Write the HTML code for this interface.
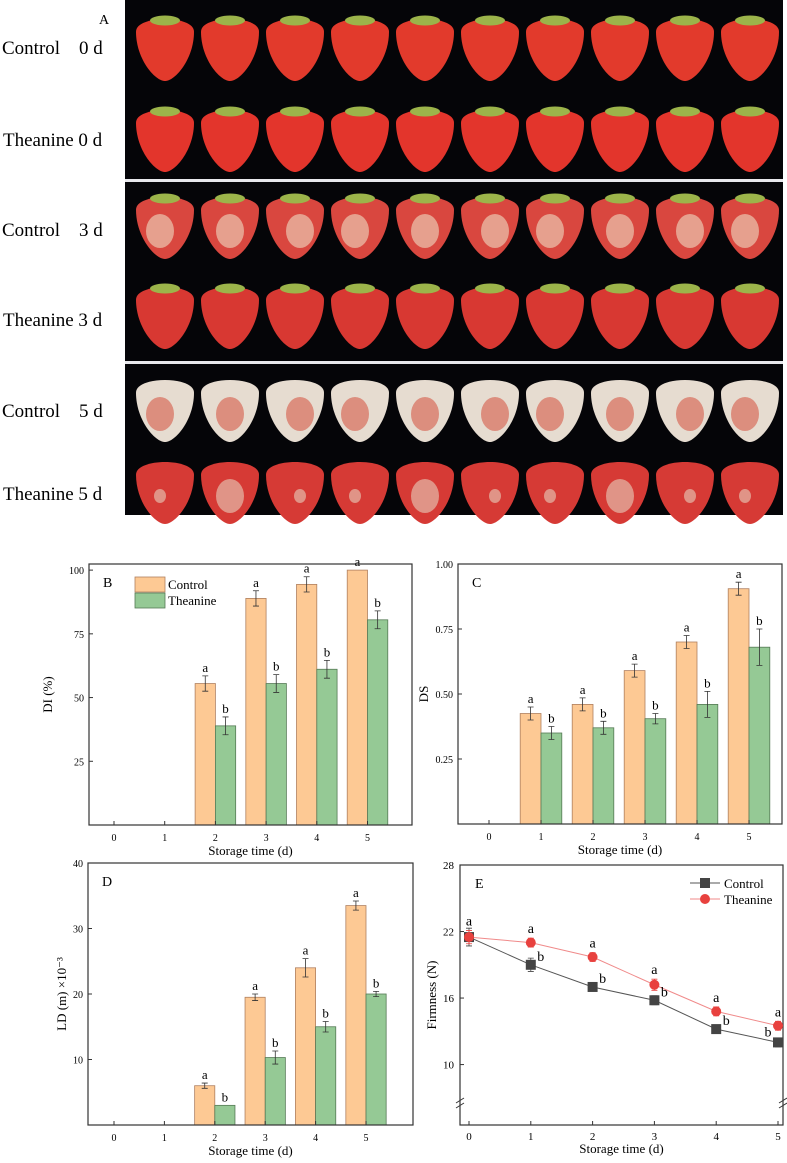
<!DOCTYPE html>
<html><head><meta charset="utf-8"><style>
html,body{margin:0;padding:0;background:#fff;}
svg{display:block;font-family:"Liberation Serif",serif;}
</style></head><body>
<svg id="fig" width="787" height="1163" viewBox="0 0 787 1163" xmlns="http://www.w3.org/2000/svg">
<g id="photo">
<rect x="125" y="0" width="658" height="515" fill="#050508"/>
<rect x="125" y="179" width="658" height="3" fill="#e8e8ec"/>
<rect x="125" y="361" width="658" height="3" fill="#e8e8ec"/>
</g>
<g font-size="19" fill="#000">
<text x="104" y="24" font-size="14" text-anchor="middle">A</text>
<text x="2" y="54">Control&#160;&#160;&#160;&#160;0 d</text>
<text x="3" y="146">Theanine 0 d</text>
<text x="2" y="236">Control&#160;&#160;&#160;&#160;3 d</text>
<text x="3" y="326">Theanine 3 d</text>
<text x="2" y="417">Control&#160;&#160;&#160;&#160;5 d</text>
<text x="3" y="500">Theanine 5 d</text>
</g>
<g id="charts"></g>
</svg>
<script>
// ===== Chart data =====
const days = [0,1,2,3,4,5];
const diControl = [null,null,55.5,88.9,94.4,100];
const diControlErr = [0,0,3,3,3,0];
const diTheanine = [null,null,38.9,55.5,61.1,80.5];
const diTheanineErr = [0,0,3.5,3.5,3.5,3.5];
const diTicks = [25,50,75,100];

const dsControl = [null,0.425,0.46,0.59,0.70,0.905];
const dsControlErr = [0,0.025,0.025,0.025,0.025,0.025];
const dsTheanine = [null,0.35,0.37,0.405,0.46,0.68];
const dsTheanineErr = [0,0.025,0.025,0.02,0.05,0.07];
const dsTicks = [0.25,0.50,0.75,1.00];
const dsTickLabels = ["0.25","0.50","0.75","1.00"];

const ldControl = [null,null,6,19.5,24,33.5];
const ldControlErr = [0,0,0.4,0.5,1.4,0.7];
const ldTheanine = [null,null,3,10.3,15,20];
const ldTheanineErr = [0,0,0,1,0.8,0.4];
const ldTicks = [10,20,30,40];

const fmControl = [21.5,19,17,15.8,13.2,12];
const fmControlErr = [0.8,0.6,0.3,0.4,0.3,0.4];
const fmTheanine = [21.5,21,19.7,17.2,14.8,13.5];
const fmTheanineErr = [0.6,0.4,0.4,0.5,0.4,0.4];
const fmTicks = [10,16,22,28];
const fmControlLetters = ["a","b","b","b","b","b"];
const fmTheanineLetters = ["a","a","a","a","a","a"];

const NS="http://www.w3.org/2000/svg";
const root=document.getElementById('charts');
function mk(tag,attrs,parent){const e=document.createElementNS(NS,tag);for(const k in attrs)e.setAttribute(k,attrs[k]);(parent||root).appendChild(e);return e;}
function txt(s,attrs,parent){const e=mk('text',attrs,parent);e.textContent=s;return e;}

// ===== Strawberry photo (decorative) =====
const photo=document.getElementById('photo');
const rowYs=[47,138,225,315,408,490];
const rowStyles=[['#e23a2c',null],['#e3352c',null],['#d9473f','#e8b09c'],['#d83832',null],['#e6dcd0','#d98070'],['#d63a35','#e2a595']];
for(let r=0;r<6;r++){for(let c=0;c<10;c++){
  const cx=165+c*65, cy=rowYs[r];
  const g=mk('g',{},photo);
  
  
  const w=29, h=34;
  mk('path',{d:`M${cx-w},${cy-h*0.45} C${cx-w},${cy-h*0.95} ${cx+w},${cy-h*0.95} ${cx+w},${cy-h*0.45} C${cx+w},${cy+h*0.35} ${cx+w*0.35},${cy+h} ${cx},${cy+h} C${cx-w*0.35},${cy+h} ${cx-w},${cy+h*0.35} ${cx-w},${cy-h*0.45}Z`,fill:rowStyles[r][0]},g);
  if(rowStyles[r][1]){
    const small=(r===5&&c%3!==1);
    mk('ellipse',{cx:cx+((c%3)-1)*5,cy:cy+6,rx:small?6:14,ry:small?7:17,fill:rowStyles[r][1],opacity:0.85},g);
  }
  if(r<4) mk('ellipse',{cx:cx,cy:cy-h*0.78,rx:15,ry:5,fill:'#9cb44a'},g);
}}

// ===== Bar chart =====
function barChart(o){
  const g=mk('g',{});
  
  
  const y=v=>o.bottom-(v-o.ymin)/(o.ymax-o.ymin)*(o.bottom-o.top);
  const x=d=>o.x0+d*o.dx;
  const bw=o.dx*0.4;
  for(let i=0;i<days.length;i++){
    [[o.c,o.ce,'#fdc994','#b08060',-1,'a'],[o.t,o.te,'#95c995','#557a55',0,'b']].forEach(s=>{
      const v=s[0][i]; if(v==null) return;
      const bx=x(days[i])+s[4]*bw;
      const b=mk('rect',{x:bx,y:y(v),width:bw,height:o.bottom-y(v),fill:s[2],stroke:s[3],'stroke-width':0.8},g);
      
      
      const e=s[1][i], mx=bx+bw/2;
      if(e>0){
        mk('path',{d:`M${mx},${y(v+e)}V${y(v-e)}M${mx-3},${y(v+e)}h6M${mx-3},${y(v-e)}h6`,stroke:'#333','stroke-width':0.8,fill:'none'},g);
      }
      const l=txt(s[5],{x:mx,y:y(v+e)-4,'font-size':13,'text-anchor':'middle'},g);
      
      
    });
  }
  mk('rect',{x:o.left,y:o.top,width:o.right-o.left,height:o.bottom-o.top,fill:'none',stroke:'#333','stroke-width':1.2},g);
  days.forEach(d=>{
    mk('line',{x1:x(d),x2:x(d),y1:o.bottom,y2:o.bottom-4,stroke:'#333'},g);
    const t=txt(String(d),{x:x(d),y:o.bottom+16,'font-size':10,'text-anchor':'middle'},g);
    
    
  });
  o.ticks.forEach((v,i)=>{
    mk('line',{x1:o.left,x2:o.left+4,y1:y(v),y2:y(v),stroke:'#333'},g);
    const t=txt(o.tickLabels?o.tickLabels[i]:String(v),{x:o.left-5,y:y(v)+4,'font-size':10,'text-anchor':'end'},g);
    
    
  });
  const xt=txt('Storage time (d)',{x:(o.left+o.right)/2,y:o.bottom+30,'font-size':13,'text-anchor':'middle'},g);
  
  
  const yt=txt(o.ylabel,{x:0,y:0,'font-size':13,'text-anchor':'middle',transform:`translate(${o.ylx},${(o.top+o.bottom)/2}) rotate(-90)`},g);
  
  
  const pl=txt(o.panel,{x:o.left+14,y:o.top+23,'font-size':14},g);
  
  
  return g;
}

barChart({name:'chart-b-di',left:89,right:412,top:564,bottom:825,x0:114,dx:50.7,ymin:0,ymax:102.4,c:diControl,ce:diControlErr,t:diTheanine,te:diTheanineErr,ticks:diTicks,ylabel:'DI (%)',ylx:52,panel:'B'});
const lg=mk('g',{});


mk('rect',{x:135,y:577,width:30,height:15,fill:'#fdc994',stroke:'#b08060','stroke-width':0.8},lg);
mk('rect',{x:135,y:593,width:30,height:15,fill:'#95c995',stroke:'#557a55','stroke-width':0.8},lg);
const l1=txt('Control',{x:168,y:589,'font-size':13},lg);


const l2=txt('Theanine',{x:168,y:605,'font-size':13},lg);



barChart({name:'chart-c-ds',left:458,right:782,top:564,bottom:824,x0:489,dx:52,ymin:0,ymax:1.0,c:dsControl,ce:dsControlErr,t:dsTheanine,te:dsTheanineErr,ticks:dsTicks,tickLabels:dsTickLabels,ylabel:'DS',ylx:428,panel:'C'});
barChart({name:'chart-d-ld',left:88,right:413,top:863,bottom:1125,x0:114,dx:50.4,ymin:0,ymax:40,c:ldControl,ce:ldControlErr,t:ldTheanine,te:ldTheanineErr,ticks:ldTicks,ylabel:'LD (m) ×10⁻³',ylx:66,panel:'D'});

// ===== Line chart E =====
(function(){
  const g=mk('g',{});
  
  
  const L=460,R=783,T=865,B=1125,ymin=4.55,ymax=28;
  const y=v=>B-(v-ymin)/(ymax-ymin)*(B-T);
  const x=d=>469+d*61.8;
  mk('rect',{x:L,y:T,width:R-L,height:B-T,fill:'none',stroke:'#333','stroke-width':1.2},g);
  mk('path',{d:`M${L-4},${B-22}l8,-5M${L-4},${B-17}l8,-5`,stroke:'#333',fill:'none'},g);
  mk('path',{d:`M${R-4},${B-22}l8,-5M${R-4},${B-17}l8,-5`,stroke:'#333',fill:'none'},g);
  const ser=[[fmControl,fmControlErr,'#444','#555',fmControlLetters,'sq'],[fmTheanine,fmTheanineErr,'#e8413e','#f08a8a',fmTheanineLetters,'ci']];
  ser.forEach(s=>{
    const p=mk('polyline',{points:days.map((d,i)=>x(d)+','+y(s[0][i])).join(' '),fill:'none',stroke:s[3],'stroke-width':1},g);
    
    
  });
  ser.forEach(s=>{
    days.forEach((d,i)=>{
      const v=s[0][i],e=s[1][i],cx=x(d);
      mk('path',{d:`M${cx},${y(v+e)}V${y(v-e)}M${cx-3},${y(v+e)}h6M${cx-3},${y(v-e)}h6`,stroke:s[2],'stroke-width':0.8},g);
      let m;
      if(s[5]==='sq') m=mk('rect',{x:cx-5,y:y(v)-5,width:10,height:10,fill:s[2]},g);
      else m=mk('circle',{cx:cx,cy:y(v),r:5,fill:s[2]},g);
      
      
      const lt=s[5]==='sq'?txt(s[4][i],{x:cx+(i===5?-10:10),y:y(v)+(i===5?-6:-4),'font-size':14,'text-anchor':'middle'},g)
                          :txt(s[4][i],{x:cx,y:y(v+e)-5,'font-size':14,'text-anchor':'middle'},g);
      if(i===0&&s[5]==='sq') lt.textContent='';
      
      
    });
  });
  days.forEach(d=>{
    mk('line',{x1:x(d),x2:x(d),y1:B,y2:B-4,stroke:'#333'},g);
    const t=txt(String(d),{x:x(d),y:B+15,'font-size':11,'text-anchor':'middle'},g);
    
    
  });
  fmTicks.forEach(v=>{
    mk('line',{x1:L,x2:L+4,y1:y(v),y2:y(v),stroke:'#333'},g);
    const t=txt(String(v),{x:L-6,y:y(v)+4,'font-size':11,'text-anchor':'end'},g);
    
    
  });
  const xt=txt('Storage time (d)',{x:(L+R)/2,y:B+28,'font-size':13,'text-anchor':'middle'},g);
  
  
  const yt=txt('Firmness (N)',{x:0,y:0,'font-size':13,'text-anchor':'middle',transform:`translate(436,${(T+B)/2}) rotate(-90)`},g);
  
  
  const pl=txt('E',{x:L+15,y:T+23,'font-size':14},g);
  
  
  mk('line',{x1:690,x2:720,y1:883,y2:883,stroke:'#555'},g);
  mk('rect',{x:700,y:878,width:10,height:10,fill:'#444'},g);
  mk('line',{x1:690,x2:720,y1:899,y2:899,stroke:'#f08a8a'},g);
  mk('circle',{cx:705,cy:899,r:5,fill:'#e8413e'},g);
  const a=txt('Control',{x:724,y:888,'font-size':13},g);
  
  
  const b=txt('Theanine',{x:724,y:904,'font-size':13},g);
  
  
})();
</script>
</body></html>
